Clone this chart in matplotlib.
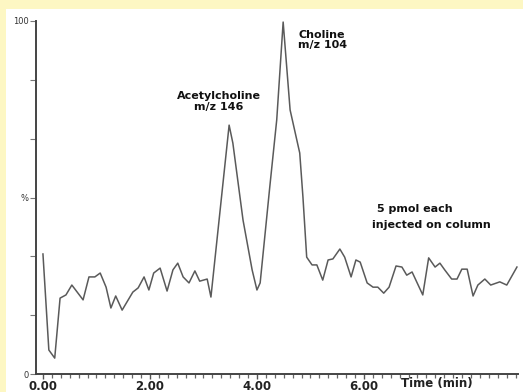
import matplotlib
matplotlib.use("Agg")
import matplotlib.pyplot as plt
from matplotlib.patches import Rectangle
from matplotlib.ticker import MultipleLocator, FixedLocator
import numpy as np

# retention time (min) and relative intensity (%)
time = [0.00, 0.11, 0.22, 0.32, 0.43, 0.54, 0.75, 0.86, 0.97, 1.07, 1.18, 1.27,
        1.36, 1.48, 1.57, 1.68, 1.78, 1.89, 1.98, 2.07, 2.19, 2.32, 2.43, 2.52,
        2.62, 2.73, 2.84, 2.93, 3.07, 3.14, 3.48, 3.55, 3.74, 3.91, 4.00, 4.06,
        4.24, 4.37, 4.49, 4.62, 4.80, 4.86, 4.93, 5.03, 5.12, 5.23, 5.33, 5.42,
        5.55, 5.64, 5.76, 5.85, 5.93, 6.06, 6.17, 6.26, 6.37, 6.47, 6.60, 6.71,
        6.80, 6.90, 7.10, 7.21, 7.33, 7.42, 7.51, 7.64, 7.74, 7.83, 7.93, 8.04,
        8.13, 8.26, 8.37, 8.54, 8.67, 8.86]
intensity = [34.0, 6.8, 4.5, 21.5, 22.4, 25.2, 21.0, 27.5, 27.5, 28.6, 24.6, 18.7,
             22.1, 18.1, 20.4, 23.2, 24.4, 27.5, 23.8, 28.6, 30.0, 23.5, 29.5, 31.4,
             27.5, 25.8, 29.2, 26.3, 26.9, 21.8, 70.5, 65.4, 43.6, 29.5, 23.8, 25.8,
             53.0, 72.0, 99.7, 74.8, 62.6, 50.1, 33.1, 30.9, 30.9, 26.6, 32.3, 32.6,
             35.4, 33.1, 27.5, 32.3, 31.7, 25.8, 24.6, 24.6, 22.9, 24.6, 30.6, 30.3,
             28.0, 28.9, 22.4, 32.9, 30.3, 31.4, 29.5, 26.9, 26.9, 29.7, 29.7, 22.1,
             25.2, 26.9, 25.2, 26.1, 25.2, 30.3]

x_major = [0, 2, 4, 6]
x_labels = ["0.00", "2.00", "4.00", "6.00"]

W, H = 523, 392
fig = plt.figure(figsize=(W / 100, H / 100), dpi=100)
fig.patch.set_facecolor("#fdf7c3")
# white plotting panel inside the yellow frame
fig.patches.append(Rectangle((6 / W, 0), 517 / W, 383 / H, transform=fig.transFigure,
                             facecolor="white", edgecolor="none", zorder=-5))

ax = fig.add_axes([36 / W, 18 / H, 482 / W, 353 / H])
ax.set_zorder(2)
ax.patch.set_alpha(0)
ax.plot(time, intensity, color="#5a5a5a", lw=1.1)

ax.set_xlim(-0.13, 8.88)
ax.set_ylim(0, 100)
ax.spines["top"].set_visible(False)
ax.spines["right"].set_visible(False)
for s in ("left", "bottom"):
    ax.spines[s].set_color("#444444")
    ax.spines[s].set_linewidth(1.4)

ax.xaxis.set_major_locator(FixedLocator(x_major))
ax.set_xticklabels(x_labels, fontsize=8.5, fontweight="bold", color="#222222")
ax.xaxis.set_minor_locator(MultipleLocator(1 / 6))
ax.tick_params(axis="x", which="major", length=3.5, width=1, color="#555555", pad=0.5)
ax.tick_params(axis="x", which="minor", length=3, width=0.9, color="#666666")

ax.yaxis.set_major_locator(FixedLocator(np.linspace(0, 100, 7)))
ax.set_yticklabels(["0", "", "", "%", "", "", "100"], fontsize=6, color="#333333")
ax.tick_params(axis="y", length=4, width=0.8, color="#777777", pad=1.5)

bold = dict(fontsize=8, fontweight="bold", color="#111111")
ax.text(3.29, 77.3, "Acetylcholine\nm/z 146", ha="center", va="center",
        linespacing=1.1, **bold)
ax.text(4.77, 94.6, "Choline\nm/z 104", ha="left", va="center", linespacing=1.1, **bold)
ax.text(6.95, 46.7, "5 pmol each", ha="center", va="center", **bold)
ax.text(7.27, 42.2, "injected on column", ha="center", va="center", **bold)
fig.text(437 / W, 8 / H, "Time (min)", ha="center", va="center", fontsize=8.5,
         fontweight="bold", color="#222222")

fig.savefig("out.png", dpi=100)
